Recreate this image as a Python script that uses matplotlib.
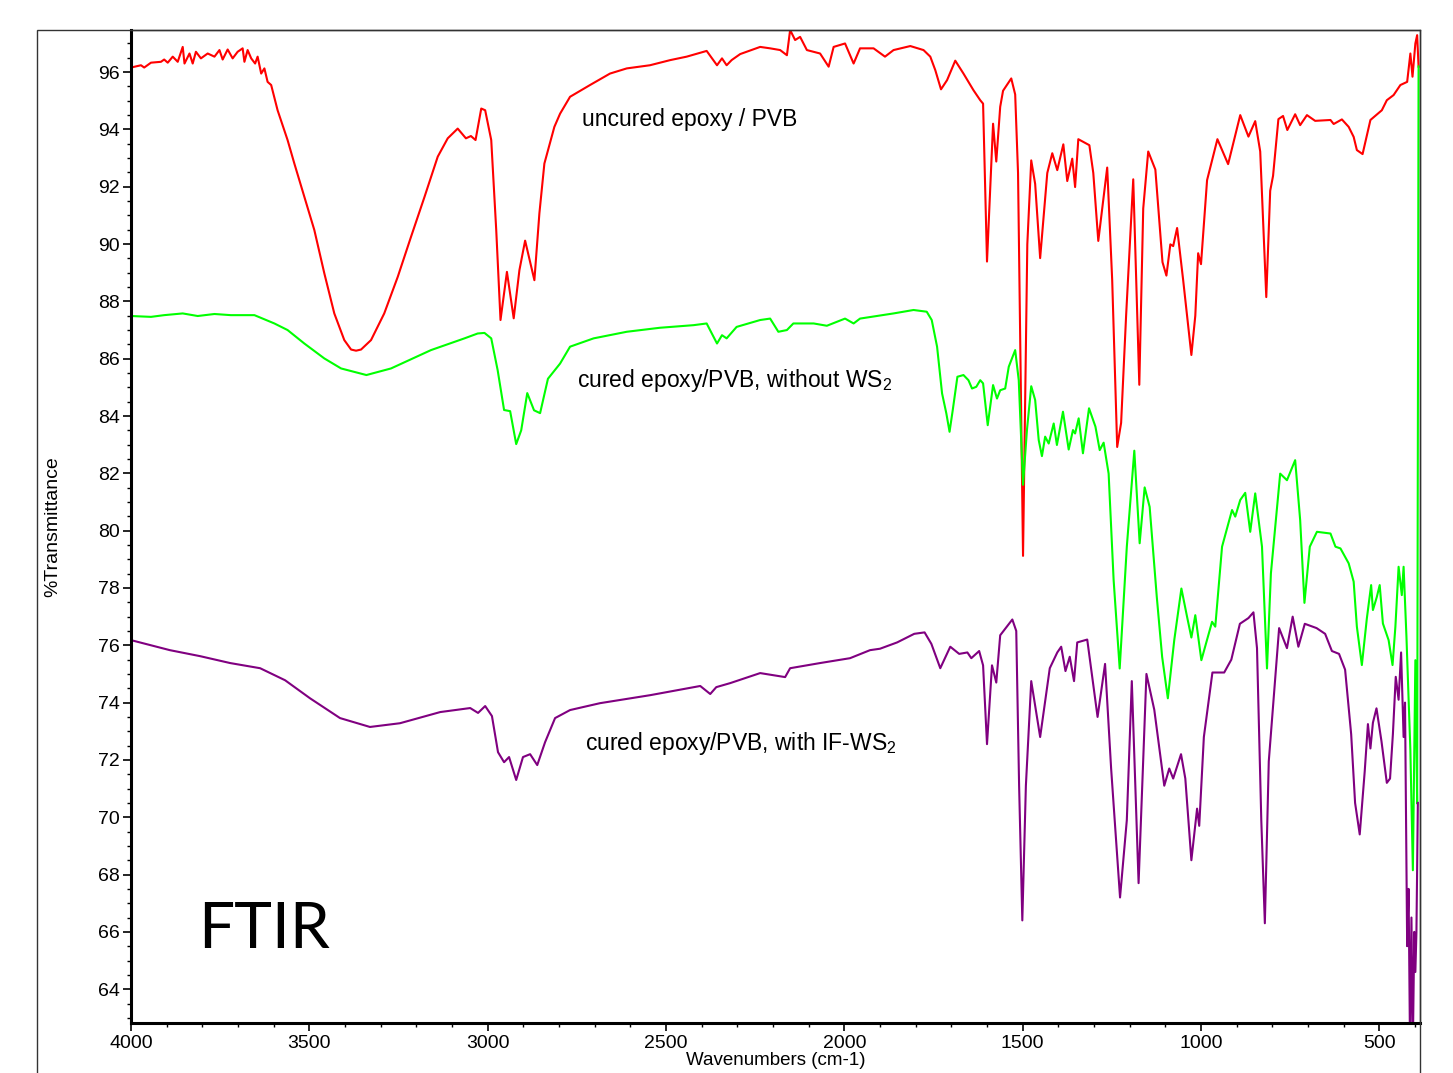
import numpy as np
import matplotlib

matplotlib.use("Agg")
import matplotlib.pyplot as plt
from matplotlib.patches import Rectangle
from matplotlib.ticker import MultipleLocator

OUT_PATH = "out.png"

# (wavenumber cm-1, %T) pairs, high to low wavenumber
UNCURED = [
    (4000, 96.16), (3972, 96.24), (3963, 96.16), (3944, 96.33), (3916, 96.36), (3907, 96.44),
    (3897, 96.33), (3883, 96.54), (3869, 96.36), (3855, 96.88), (3850, 96.30), (3836, 96.65),
    (3827, 96.30), (3818, 96.71), (3804, 96.48), (3785, 96.65), (3766, 96.54), (3752, 96.77),
    (3743, 96.44), (3729, 96.79), (3715, 96.48), (3701, 96.71), (3687, 96.83), (3682, 96.36),
    (3673, 96.77), (3663, 96.48), (3652, 96.30), (3645, 96.54), (3635, 95.95), (3626, 96.13),
    (3617, 95.66), (3607, 95.55), (3589, 94.67), (3561, 93.63), (3542, 92.81), (3514, 91.65),
    (3486, 90.49), (3458, 88.98), (3430, 87.58), (3402, 86.65), (3383, 86.32), (3369, 86.28),
    (3355, 86.32), (3327, 86.65), (3290, 87.58), (3252, 88.86), (3215, 90.25), (3177, 91.65),
    (3140, 93.05), (3112, 93.69), (3084, 94.03), (3061, 93.69), (3047, 93.77), (3034, 93.63),
    (3018, 94.73), (3007, 94.67), (2990, 93.63), (2976, 90.49), (2964, 87.35), (2946, 89.03),
    (2927, 87.41), (2911, 89.09), (2895, 90.12), (2869, 88.74), (2855, 91.07), (2841, 92.81),
    (2813, 94.09), (2797, 94.55), (2769, 95.14), (2713, 95.55), (2657, 95.95), (2610, 96.13),
    (2545, 96.24), (2488, 96.42), (2442, 96.54), (2386, 96.74), (2357, 96.24), (2343, 96.48),
    (2330, 96.24), (2316, 96.42), (2292, 96.63), (2236, 96.88), (2208, 96.83), (2180, 96.77),
    (2161, 96.59), (2152, 97.47), (2138, 97.12), (2124, 97.23), (2105, 96.77), (2068, 96.65),
    (2044, 96.19), (2030, 96.88), (1998, 97.00), (1974, 96.30), (1956, 96.83), (1918, 96.83),
    (1886, 96.54), (1862, 96.77), (1815, 96.91), (1778, 96.77), (1759, 96.54), (1745, 96.07),
    (1729, 95.40), (1712, 95.72), (1689, 96.40), (1666, 95.95), (1638, 95.37), (1619, 95.02),
    (1611, 94.90), (1600, 89.39), (1583, 94.20), (1574, 92.88), (1563, 94.79), (1555, 95.35),
    (1532, 95.78), (1521, 95.22), (1513, 92.48), (1499, 79.12), (1487, 89.99), (1476, 92.92),
    (1465, 92.10), (1451, 89.51), (1431, 92.48), (1417, 93.17), (1403, 92.58), (1386, 93.48),
    (1375, 92.20), (1361, 92.98), (1353, 91.99), (1344, 93.66), (1313, 93.45), (1302, 92.48),
    (1288, 90.11), (1263, 92.67), (1249, 88.74), (1235, 82.92), (1224, 83.76), (1210, 87.50),
    (1190, 92.26), (1173, 85.09), (1162, 91.24), (1148, 93.23), (1128, 92.60), (1108, 89.37),
    (1097, 88.90), (1086, 89.99), (1078, 89.93), (1067, 90.56), (1050, 88.74), (1027, 86.13),
    (1016, 87.50), (1008, 89.68), (1000, 89.30), (983, 92.23), (954, 93.66), (924, 92.79),
    (890, 94.50), (867, 93.75), (848, 94.29), (834, 93.23), (817, 88.15), (806, 91.86),
    (798, 92.38), (783, 94.36), (770, 94.47), (758, 93.98), (736, 94.53), (722, 94.15),
    (703, 94.50), (680, 94.30), (637, 94.33), (628, 94.19), (605, 94.35), (586, 94.09),
    (572, 93.74), (563, 93.28), (547, 93.14), (525, 94.33), (493, 94.67), (479, 95.02),
    (460, 95.20), (441, 95.55), (422, 95.66), (413, 96.65), (407, 95.84), (399, 97.00),
    (394, 97.29), (390, 96.19),
]

CURED_NO_WS2 = [
    (4000, 87.49), (3944, 87.46), (3907, 87.52), (3855, 87.58), (3813, 87.49), (3766, 87.56),
    (3720, 87.52), (3654, 87.52), (3598, 87.23), (3561, 87.00), (3514, 86.53), (3458, 86.01),
    (3411, 85.66), (3340, 85.43), (3271, 85.66), (3159, 86.30), (3065, 86.71), (3028, 86.88),
    (3009, 86.90), (2990, 86.71), (2972, 85.60), (2954, 84.21), (2937, 84.17), (2920, 83.02),
    (2906, 83.50), (2889, 84.80), (2870, 84.20), (2853, 84.10), (2831, 85.30), (2797, 85.83),
    (2769, 86.42), (2703, 86.71), (2610, 86.94), (2517, 87.08), (2423, 87.17), (2386, 87.23),
    (2357, 86.53), (2343, 86.82), (2330, 86.71), (2302, 87.11), (2236, 87.35), (2208, 87.40),
    (2185, 86.94), (2161, 87.00), (2143, 87.23), (2086, 87.23), (2049, 87.15), (1998, 87.40),
    (1974, 87.23), (1956, 87.40), (1862, 87.58), (1806, 87.70), (1769, 87.64), (1755, 87.35),
    (1740, 86.42), (1726, 84.79), (1714, 84.09), (1705, 83.45), (1696, 84.21), (1683, 85.37),
    (1666, 85.43), (1652, 85.25), (1642, 84.96), (1630, 85.02), (1619, 85.25), (1611, 85.14),
    (1598, 83.68), (1583, 85.08), (1572, 84.61), (1563, 84.90), (1549, 84.96), (1539, 85.72),
    (1521, 86.30), (1511, 85.25), (1499, 81.60), (1488, 83.51), (1476, 85.04), (1465, 84.56),
    (1455, 83.16), (1446, 82.60), (1437, 83.28), (1427, 83.04), (1413, 83.74), (1404, 82.99),
    (1387, 84.15), (1371, 82.83), (1359, 83.51), (1353, 83.39), (1343, 83.92), (1331, 82.70),
    (1314, 84.27), (1296, 83.63), (1284, 82.81), (1273, 83.07), (1259, 81.99), (1245, 78.28),
    (1228, 75.19), (1208, 79.44), (1187, 82.79), (1172, 79.56), (1158, 81.51), (1144, 80.83),
    (1124, 77.69), (1109, 75.60), (1093, 74.15), (1075, 76.18), (1055, 77.98), (1039, 76.99),
    (1027, 76.27), (1016, 77.05), (999, 75.48), (969, 76.82), (960, 76.65), (941, 79.44),
    (913, 80.72), (904, 80.49), (890, 81.07), (876, 81.32), (862, 79.96), (848, 81.30),
    (829, 79.44), (815, 75.19), (804, 78.51), (778, 81.99), (759, 81.76), (736, 82.46),
    (722, 80.37), (710, 77.48), (695, 79.44), (675, 79.96), (637, 79.90), (623, 79.44),
    (609, 79.38), (586, 78.86), (572, 78.22), (563, 76.65), (549, 75.31), (535, 76.94),
    (523, 78.10), (518, 77.23), (507, 77.69), (499, 78.10), (490, 76.76), (474, 76.18),
    (463, 75.31), (455, 76.65), (446, 78.74), (437, 77.75), (432, 78.74), (424, 76.30),
    (413, 72.34), (406, 68.15), (399, 75.48), (394, 70.48), (390, 96.20),
]

CURED_IF_WS2 = [
    (4000, 76.18), (3891, 75.83), (3806, 75.62), (3722, 75.38), (3638, 75.20), (3568, 74.78),
    (3498, 74.15), (3414, 73.46), (3330, 73.15), (3246, 73.28), (3133, 73.67), (3049, 73.81),
    (3027, 73.64), (3007, 73.88), (2988, 73.53), (2971, 72.27), (2954, 71.92), (2940, 72.10),
    (2920, 71.30), (2901, 72.10), (2881, 72.20), (2861, 71.82), (2839, 72.62), (2811, 73.46),
    (2769, 73.74), (2685, 73.98), (2544, 74.26), (2404, 74.58), (2376, 74.30), (2359, 74.54),
    (2320, 74.68), (2236, 75.03), (2166, 74.89), (2152, 75.20), (2068, 75.38), (1984, 75.55),
    (1928, 75.83), (1900, 75.88), (1852, 76.10), (1804, 76.40), (1775, 76.45), (1756, 76.05),
    (1731, 75.20), (1703, 75.95), (1678, 75.70), (1655, 75.75), (1644, 75.55), (1622, 75.80),
    (1611, 75.30), (1600, 72.55), (1586, 75.30), (1574, 74.70), (1563, 76.35), (1529, 76.90),
    (1518, 76.50), (1510, 71.10), (1501, 66.40), (1491, 71.10), (1476, 74.75), (1451, 72.80),
    (1424, 75.20), (1403, 75.75), (1392, 75.95), (1380, 75.10), (1368, 75.60), (1356, 74.75),
    (1347, 76.10), (1319, 76.20), (1290, 73.50), (1269, 75.35), (1252, 71.70), (1227, 67.20),
    (1208, 69.90), (1194, 74.75), (1175, 67.70), (1153, 75.00), (1131, 73.75), (1103, 71.10),
    (1089, 71.70), (1078, 71.35), (1056, 72.20), (1044, 71.35), (1027, 68.50), (1011, 70.30),
    (1005, 69.70), (992, 72.80), (968, 75.05), (935, 75.05), (915, 75.50), (891, 76.75),
    (867, 76.95), (853, 77.15), (843, 75.90), (831, 69.90), (821, 66.30), (810, 71.95),
    (781, 76.60), (759, 75.90), (743, 77.00), (727, 75.95), (709, 76.75), (676, 76.60),
    (652, 76.40), (633, 75.80), (613, 75.70), (596, 75.15), (579, 72.90), (568, 70.50),
    (555, 69.40), (541, 71.60), (532, 73.25), (525, 72.40), (518, 73.30), (508, 73.80),
    (494, 72.65), (479, 71.20), (470, 71.35), (462, 72.90), (454, 74.90), (446, 74.10),
    (439, 75.75), (432, 72.80), (428, 74.00), (422, 65.50), (418, 67.50), (414, 62.00),
    (410, 66.50), (406, 62.00), (402, 66.00), (399, 64.60), (396, 66.00), (392, 70.50),
]

SERIES_NAMES = ["uncured epoxy / PVB", "cured epoxy/PVB, without WS$_2$", "cured epoxy/PVB, with IF-WS$_2$"]
SERIES_COLORS = ["#ff0000", "#00ff00", "#800080"]

W_PX, H_PX = 1453, 1073


def set_style() -> None:
    plt.rcParams["font.family"] = "Liberation Sans"
    plt.rcParams["mathtext.fontset"] = "custom"
    plt.rcParams["mathtext.rm"] = "Liberation Sans"
    plt.rcParams["mathtext.it"] = "Liberation Sans"
    plt.rcParams["font.size"] = 14


def main() -> None:
    set_style()
    fig = plt.figure(figsize=(W_PX / 100, H_PX / 100), dpi=100)
    ax = fig.add_axes([131 / W_PX, 1 - 1023 / H_PX, (1420 - 131) / W_PX, (1023 - 30) / H_PX])

    for data, color in zip([UNCURED, CURED_NO_WS2, CURED_IF_WS2], SERIES_COLORS):
        arr = np.array(data, dtype=float)
        ax.plot(arr[:, 0], arr[:, 1], color=color, linewidth=1.5, solid_joinstyle="round")

    ax.set_xlim(4000, 386)
    ax.set_ylim(62.82, 97.47)
    ax.xaxis.set_major_locator(MultipleLocator(500))
    ax.xaxis.set_minor_locator(MultipleLocator(100))
    ax.yaxis.set_major_locator(MultipleLocator(2))
    ax.yaxis.set_minor_locator(MultipleLocator(0.5))
    ax.tick_params(which="major", direction="out", length=6, width=1.2, labelsize=14, pad=2)
    ax.tick_params(which="minor", direction="out", length=3, width=1.0)
    ax.tick_params(axis="x", which="major", pad=3)

    for side in ["left", "bottom"]:
        ax.spines[side].set_linewidth(2.2)
        ax.spines[side].set_color("black")
    for side in ["top", "right"]:
        ax.spines[side].set_linewidth(1.0)
        ax.spines[side].set_color("#333333")

    ax.set_ylabel("%Transmittance", fontsize=14)
    ax.yaxis.set_label_coords(-0.054, 0.5)
    # the scan crops this label; keep it just inside the canvas
    ax.set_xlabel("Wavenumbers (cm-1)", fontsize=13.5)
    ax.xaxis.set_label_coords(0.5, -0.029)

    # curve labels
    ax.text(2735, 94.33, SERIES_NAMES[0], fontsize=16.5, ha="left", va="center")
    ax.text(2749, 85.25, SERIES_NAMES[1], fontsize=16.5, ha="left", va="center")
    ax.text(2727, 72.59, SERIES_NAMES[2], fontsize=16.5, ha="left", va="center")
    ax.text(3812, 65.43, "FTIR", fontsize=46, family="Lato", ha="left", va="baseline")

    # outer frame of the screenshot
    frame = Rectangle(
        (37 / W_PX, -0.05),
        (1420 - 37) / W_PX,
        1 - 30 / H_PX + 0.05,
        transform=fig.transFigure,
        fill=False,
        edgecolor="#333333",
        linewidth=1.0,
    )
    fig.add_artist(frame)

    fig.savefig(OUT_PATH, dpi=100)
    plt.close(fig)


if __name__ == "__main__":
    main()
